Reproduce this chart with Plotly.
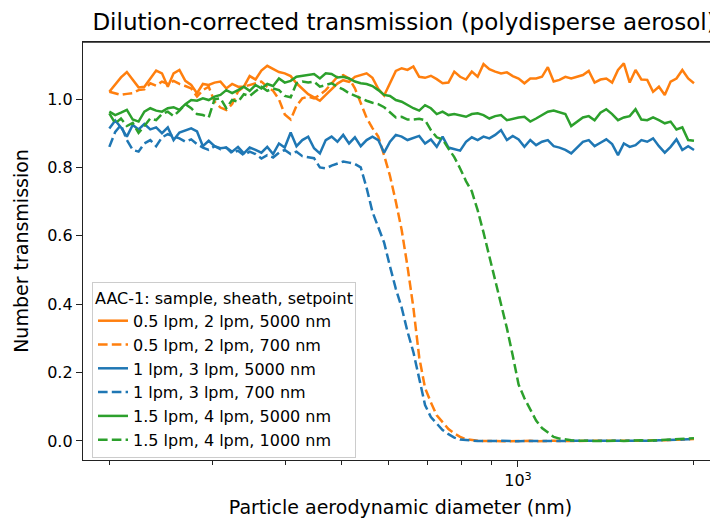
import plotly.graph_objects as go

diameter = [200.0, 204.7, 209.4, 214.3, 219.3, 224.4, 229.6, 235.0, 240.5, 246.1,
            251.8, 257.6, 263.6, 269.8, 276.1, 282.5, 289.1, 295.8, 302.7, 309.8,
            317.0, 324.4, 332.0, 339.7, 347.6, 355.7, 364.0, 372.5, 381.2, 390.1,
            399.1, 408.5, 418.0, 427.7, 437.7, 447.9, 458.3, 469.0, 479.9, 491.1,
            502.4, 514.1, 526.1, 538.3, 550.9, 563.7, 576.8, 590.3, 604.1, 618.1,
            632.5, 647.2, 662.3, 677.7, 693.5, 709.6, 726.2, 743.1, 760.4, 778.1,
            796.2, 814.8, 833.7, 853.1, 873.0, 893.3, 914.1, 935.4, 957.2, 979.5,
            1002.4, 1025.7, 1049.6, 1074.0, 1099.1, 1124.7, 1150.9, 1177.7, 1205.1, 1233.2,
            1261.9, 1291.3, 1321.4, 1352.2, 1383.7, 1415.9, 1448.9, 1482.7, 1517.2, 1552.6,
            1588.7, 1625.7, 1663.6, 1702.4, 1742.0, 1782.6, 1824.1, 1866.6, 1910.1, 1954.6,
            2000.0]

orange_solid = [1.021, 1.043, 1.063, 1.079, 1.056, 1.034, 1.036, 1.060, 1.083, 1.075,
                1.036, 1.075, 1.085, 1.053, 1.041, 1.017, 1.044, 1.041, 1.048, 1.051,
                1.031, 1.044, 1.036, 1.036, 1.067, 1.057, 1.083, 1.097, 1.087, 1.079,
                1.075, 1.067, 1.046, 1.031, 1.014, 1.005, 0.995, 1.012, 1.030, 1.045,
                1.055, 1.050, 1.065, 1.070, 1.075, 1.062, 1.030, 1.010, 1.045, 1.082,
                1.090, 1.085, 1.095, 1.065, 1.062, 1.068, 1.058, 1.046, 1.048, 1.080,
                1.065, 1.057, 1.080, 1.065, 1.102, 1.087, 1.080, 1.075, 1.078, 1.067,
                1.060, 1.046, 1.060, 1.060, 1.065, 1.093, 1.051, 1.056, 1.065, 1.060,
                1.065, 1.070, 1.082, 1.048, 1.057, 1.060, 1.048, 1.085, 1.104, 1.048,
                1.085, 1.057, 1.056, 1.021, 1.036, 1.012, 1.051, 1.060, 1.085, 1.060,
                1.046]

orange_dashed = [1.021, 1.017, 1.012, 1.015, 1.017, 1.026, 1.028, 1.046, 1.039, 1.051,
                 1.044, 1.053, 1.044, 1.038, 1.031, 1.007, 1.026, 1.036, 0.992, 0.975,
                 0.968, 0.985, 1.022, 1.036, 1.041, 1.046, 1.051, 1.036, 1.024, 0.999,
                 0.955, 0.940, 0.980, 1.002, 1.007, 1.002, 1.012, 1.026, 1.046, 1.065,
                 1.070, 1.060, 1.031, 0.987, 0.945, 0.915, 0.890, 0.835, 0.775, 0.700,
                 0.617, 0.510, 0.390, 0.245, 0.155, 0.113, 0.075, 0.055, 0.035, 0.022,
                 0.012, 0.005, 0.002, 0.001, 0.000, 0.001, 0.000, -0.001, 0.000, 0.001,
                 0.000, 0.000, 0.001, -0.001, 0.000, 0.000, 0.001, 0.000, 0.000, 0.001,
                 0.000, -0.001, 0.000, 0.000, 0.001, 0.000, 0.000, 0.001, 0.000, 0.001,
                 0.001, 0.000, 0.001, 0.002, 0.001, 0.002, 0.003, 0.003, 0.004, 0.005,
                 0.006]

blue_solid = [0.914, 0.937, 0.917, 0.890, 0.924, 0.911, 0.927, 0.911, 0.917, 0.900,
              0.917, 0.880, 0.902, 0.907, 0.914, 0.905, 0.862, 0.878, 0.862, 0.856,
              0.858, 0.846, 0.860, 0.841, 0.858, 0.851, 0.843, 0.860, 0.839, 0.870,
              0.858, 0.902, 0.862, 0.880, 0.890, 0.856, 0.841, 0.880, 0.890, 0.875,
              0.895, 0.870, 0.888, 0.862, 0.880, 0.890, 0.880, 0.843, 0.875, 0.895,
              0.890, 0.880, 0.885, 0.892, 0.870, 0.882, 0.860, 0.890, 0.858, 0.853,
              0.849, 0.875, 0.888, 0.880, 0.890, 0.885, 0.895, 0.909, 0.880, 0.892,
              0.882, 0.860, 0.880, 0.865, 0.875, 0.880, 0.862, 0.858, 0.851, 0.841,
              0.858, 0.875, 0.880, 0.862, 0.872, 0.882, 0.868, 0.836, 0.870, 0.860,
              0.865, 0.880, 0.875, 0.885, 0.862, 0.843, 0.860, 0.882, 0.851, 0.862,
              0.851]

blue_dashed = [0.860, 0.904, 0.924, 0.880, 0.851, 0.846, 0.870, 0.880, 0.862, 0.888,
               0.897, 0.892, 0.885, 0.875, 0.882, 0.868, 0.858, 0.851, 0.862, 0.853,
               0.858, 0.841, 0.849, 0.836, 0.846, 0.839, 0.826, 0.836, 0.829, 0.843,
               0.851, 0.839, 0.846, 0.833, 0.831, 0.827, 0.800, 0.797, 0.805, 0.812,
               0.817, 0.814, 0.810, 0.800, 0.740, 0.670, 0.625, 0.580, 0.510, 0.445,
               0.390, 0.320, 0.260, 0.180, 0.105, 0.070, 0.050, 0.032, 0.020, 0.010,
               0.004, 0.002, 0.001, 0.000, 0.000, -0.001, 0.000, 0.001, 0.000, 0.000,
               -0.001, 0.000, 0.000, 0.001, 0.000, 0.000, -0.001, 0.000, 0.001, 0.000,
               0.000, 0.000, 0.001, 0.000, 0.000, 0.001, 0.000, 0.000, 0.001, 0.000,
               0.001, 0.001, 0.000, 0.001, 0.002, 0.002, 0.002, 0.003, 0.004, 0.005,
               0.006]

green_solid = [0.963, 0.953, 0.960, 0.968, 0.940, 0.934, 0.963, 0.973, 0.966, 0.963,
               0.973, 0.976, 0.968, 0.985, 0.997, 0.995, 1.002, 0.997, 1.007, 1.012,
               1.026, 1.017, 1.026, 1.036, 1.024, 1.041, 1.031, 1.044, 1.038, 1.060,
               1.048, 1.053, 1.065, 1.067, 1.069, 1.073, 1.060, 1.075, 1.073, 1.063,
               1.065, 1.060, 1.051, 1.046, 1.044, 1.038, 1.026, 1.012, 1.009, 0.997,
               0.992, 0.982, 0.973, 0.966, 0.982, 0.973, 0.956, 0.963, 0.953, 0.956,
               0.953, 0.948, 0.956, 0.958, 0.953, 0.943, 0.950, 0.953, 0.938, 0.943,
               0.946, 0.948, 0.934, 0.943, 0.953, 0.963, 0.966, 0.960, 0.956, 0.921,
               0.934, 0.946, 0.950, 0.938, 0.960, 0.970, 0.956, 0.938, 0.946, 0.950,
               0.970, 0.940, 0.938, 0.946, 0.938, 0.929, 0.934, 0.911, 0.917, 0.880,
               0.878]

green_dashed = [0.958, 0.929, 0.943, 0.921, 0.930, 0.901, 0.921, 0.943, 0.938, 0.956,
                0.963, 0.950, 0.966, 0.985, 0.973, 0.956, 0.953, 0.946, 0.999, 1.002,
                0.973, 0.997, 0.992, 1.014, 1.009, 1.022, 1.036, 1.024, 1.031, 1.026,
                1.009, 1.005, 1.046, 1.051, 1.048, 1.051, 1.036, 1.041, 1.046, 1.036,
                1.028, 1.017, 1.009, 1.002, 0.995, 0.989, 0.985, 0.976, 0.960, 0.946,
                0.948, 0.940, 0.940, 0.942, 0.938, 0.909, 0.888, 0.882, 0.855, 0.830,
                0.797, 0.760, 0.730, 0.675, 0.610, 0.540, 0.470, 0.405, 0.330, 0.250,
                0.165, 0.125, 0.090, 0.060, 0.038, 0.025, 0.012, 0.007, 0.004, 0.002,
                0.001, 0.000, 0.001, 0.000, 0.000, 0.001, 0.000, 0.001, 0.000, 0.001,
                0.001, 0.002, 0.001, 0.002, 0.003, 0.003, 0.004, 0.005, 0.006, 0.007,
                0.008]

labels = ["0.5 lpm, 2 lpm, 5000 nm", "0.5 lpm, 2 lpm, 700 nm",
          "1 lpm, 3 lpm, 5000 nm", "1 lpm, 3 lpm, 700 nm",
          "1.5 lpm, 4 lpm, 5000 nm", "1.5 lpm, 4 lpm, 1000 nm"]
series = [orange_solid, orange_dashed, blue_solid, blue_dashed, green_solid, green_dashed]
colors = ["#ff7f0e", "#ff7f0e", "#1f77b4", "#1f77b4", "#2ca02c", "#2ca02c"]
dashes = ["solid", "9.6px,4.2px", "solid", "9.6px,4.2px", "solid", "9.6px,4.2px"]

FONT = "DejaVu Sans"

fig = go.Figure()
for i, (lab, ys, c, d) in enumerate(zip(labels, series, colors, dashes)):
    fig.add_trace(go.Scatter(x=diameter, y=ys, mode="lines", name=lab,
                             legendgroup=f"g{i}",
                             line=dict(color=c, width=2.5, dash=d)))

minor_vals = [200, 300, 400, 500, 600, 700, 800, 900, 2000]

# The page adds an 8px body margin, so the figure is 8px smaller and offset.
W, H = 710, 510
fig.update_layout(
    width=W, height=H,
    margin=dict(l=75, r=0, t=34, b=58, autoexpand=False),
    paper_bgcolor="white", plot_bgcolor="white",
    font=dict(family=FONT, size=16, color="black"),
    title=dict(text="Dilution-corrected transmission (polydisperse aerosol)",
               x=396/W, xref="container", xanchor="center",
               y=1 - 14/H, yref="container", yanchor="middle",
               font=dict(size=23, family=FONT)),
    showlegend=True,
    legend=dict(
        title=dict(text="AAC-1: sample, sheath, setpoint", font=dict(size=16)),
        x=(92-83)/635, y=(460-282)/418, xanchor="left", yanchor="top",
        bgcolor="rgba(255,255,255,0.8)", bordercolor="#cccccc", borderwidth=1,
        font=dict(size=16, family=FONT), tracegroupgap=0,
    ),
    shapes=[dict(type="line", xref="paper", yref="paper", x0=0, x1=1, y0=1, y1=1,
                 layer="above", line=dict(color="#222222", width=1.6))],
)

fig.update_xaxes(
    type="log", range=[2.2560, 3.3421], automargin=False,
    showgrid=False, zeroline=False,
    showline=True, linecolor="#222222", linewidth=1.3, mirror=True,
    ticks="outside", ticklen=6, tickwidth=1.3, tickcolor="#222222",
    tickvals=[1000], ticktext=["10<sup>3</sup>"],
    minor=dict(ticks="outside", ticklen=3.5, tickwidth=1.1, tickcolor="#222222",
               tickvals=minor_vals, showgrid=False),
    title=dict(text="Particle aerodynamic diameter (nm)", standoff=12),
)

fig.update_yaxes(
    range=[-0.0556, 1.1667], automargin=False,
    showgrid=False, zeroline=False,
    showline=True, linecolor="#222222", linewidth=1.3, mirror=False,
    ticks="outside", ticklen=6, tickwidth=1.3, tickcolor="#222222",
    tickvals=[0.0, 0.2, 0.4, 0.6, 0.8, 1.0], tickformat=".1f",
    title=dict(text="Number transmission", standoff=13),
)

fig.write_html("out.html")
